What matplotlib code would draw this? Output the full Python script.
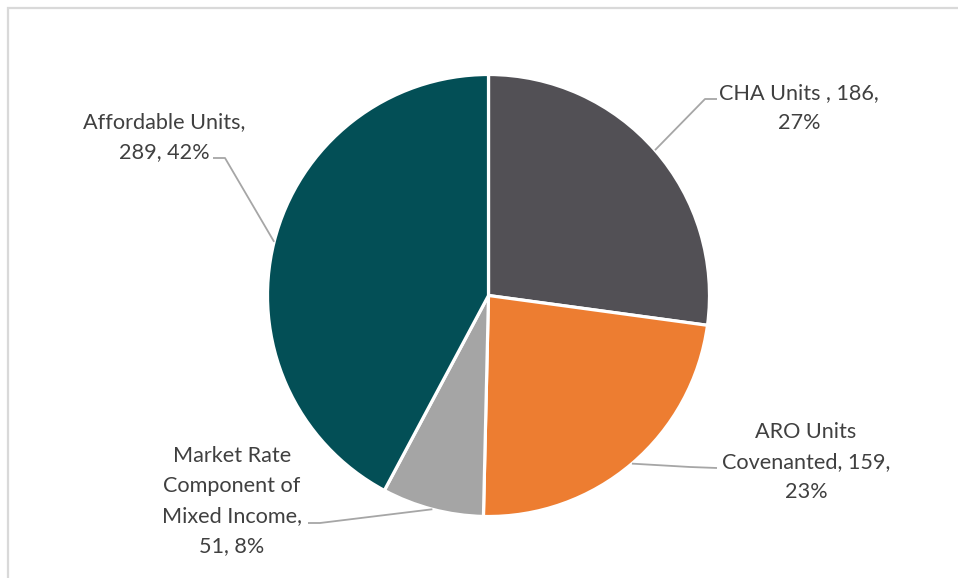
import numpy as np
import matplotlib
matplotlib.use("Agg")
import matplotlib.pyplot as plt
from matplotlib.patches import Rectangle

categories = ["CHA Units ", "ARO Units Covenanted", "Market Rate Component of Mixed Income", "Affordable Units"]
values = [186, 159, 51, 289]
percent_labels = ["27%", "23%", "8%", "42%"]
label_texts = [
    "CHA Units , 186,\n27%",
    "ARO Units\nCovenanted, 159,\n23%",
    "Market Rate\nComponent of\nMixed Income,\n51, 8%",
    "Affordable Units,\n289, 42%",
]
colors = ["#525055", "#ED7D31", "#A5A5A5", "#034F56"]

W, H = 958, 578
fig = plt.figure(figsize=(W / 100, H / 100), dpi=100)
ax = fig.add_axes([0, 0, 1, 1])

cx, cy, R = 488.5, H - 295.5, 221
wedges, _ = ax.pie(values, colors=colors, startangle=90, counterclock=False,
                   center=(cx, cy), radius=R, frame=True,
                   wedgeprops=dict(edgecolor="white", linewidth=2.3))
ax.set_xlim(0, W)
ax.set_ylim(0, H)
ax.set_aspect("equal")
ax.set_axis_off()

# chart border (top and left visible)
ax.add_patch(Rectangle((8.5, -20), W + 40, H - 7.5 + 20, fill=False,
                       edgecolor="#D9D9D9", linewidth=1.6, zorder=0))

# label layout: text centre (x, y in px from top), elbow point, horizontal end
layout = [
    dict(tx=799, ty=108, elbow=(705, 99), end=(717, 99)),
    dict(tx=806, ty=462, elbow=(690, 467), end=(717, 468)),
    dict(tx=232, ty=501, elbow=(320, 523), end=(308, 523)),
    dict(tx=164, ty=137, elbow=(225, 158), end=(213, 158)),
]

font = dict(family=["Lato", "DejaVu Sans"], size=15.6, color="#404040")
for w, txt, lay in zip(wedges, label_texts, layout):
    ang = np.deg2rad((w.theta1 + w.theta2) / 2)
    ax_pt = (cx + R * np.cos(ang), cy + R * np.sin(ang))
    ex, ey = lay["elbow"]
    hx, hy = lay["end"]
    ax.plot([ax_pt[0], ex, hx], [ax_pt[1], H - ey, H - hy], color="#A6A6A6",
            linewidth=1.3, solid_capstyle="butt", zorder=1)
    ax.text(lay["tx"], H - lay["ty"], txt, ha="center", va="center",
            linespacing=1.62, **font)

fig.savefig("out.png", dpi=100)
